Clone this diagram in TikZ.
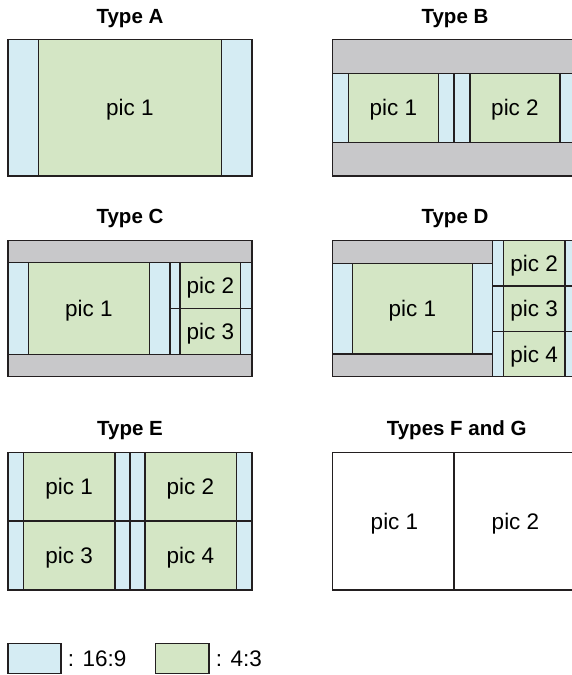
\documentclass[tikz,border=0pt]{standalone}
\usepackage{fontspec}
\setmainfont{Liberation Sans}
\usetikzlibrary{positioning}
\definecolor{wideblue}{RGB}{213,236,243}
\definecolor{stdgreen}{RGB}{212,230,197}
\definecolor{bargray}{RGB}{200,200,202}
\definecolor{edgeline}{RGB}{35,31,32}
\tikzset{
  wide/.style={draw=edgeline,line width=1.5pt,fill=wideblue},
  std/.style={draw=edgeline,line width=1.5pt,fill=stdgreen,inner sep=0pt,text depth=0pt,font=\fontsize{22.5}{26}\selectfont},
  bar/.style={draw=edgeline,line width=1.5pt,fill=bargray},
  blank/.style={draw=edgeline,line width=1.5pt,fill=white},
  title/.style={font=\bfseries\fontsize{20.5}{24}\selectfont,anchor=base,inner sep=0pt},
  tag/.style={font=\fontsize{22.5}{26}\selectfont,text depth=0pt,inner sep=0pt}
}
\begin{document}
\begin{tikzpicture}[x=1pt,y=-1pt]
\useasboundingbox (0,0) rectangle (572,675);
\clip (0,0) rectangle (572,675);


\node[title] (tA) at (130,23.3) {Type A};
\draw[wide] (8,39.5) rectangle (252,176);
\node[std,minimum width=182.6pt,minimum height=136.5pt] (a1) at (130,107.75) {pic 1};


\node[title] (tB) at (455,23.3) {Type B};
\draw[bar] (332.3,39.5) rectangle (576,176);
\draw[wide] (332.3,73.3) rectangle (454,142.3);
\draw[wide] (454,73.3) rectangle (576,142.3);
\node[std,minimum width=90pt,minimum height=69pt] (b1) at (393.3,107.8) {pic 1};
\node[std,minimum width=90pt,minimum height=69pt] (b2) at (515,107.8) {pic 2};


\node[title] (tC) at (130,223.3) {Type C};
\draw[bar] (8,240.7) rectangle (252,376.7);
\draw[wide] (8,262.7) rectangle (170,354.3);
\draw[wide] (170,262.7) rectangle (252,308.5);
\draw[wide] (170,308.5) rectangle (252,354.3);
\node[std,minimum width=121.4pt,minimum height=91.6pt] (c1) at (89,308.5) {pic 1};
\node[std,minimum width=60.7pt,minimum height=45.8pt] (c2) at (210.35,285.6) {pic 2};
\node[std,minimum width=60.7pt,minimum height=45.8pt] (c3) at (210.35,331.4) {pic 3};


\node[title] (tD) at (455,223.3) {Type D};
\draw[bar] (332.3,240.7) rectangle (492.3,376.7);
\draw[wide] (332.3,263.3) rectangle (492.3,354);
\draw[wide] (492.3,240.7) rectangle (576,286);
\draw[wide] (492.3,286) rectangle (576,331.3);
\draw[wide] (492.3,331.3) rectangle (576,376.7);
\node[std,minimum width=120pt,minimum height=90.7pt] (d1) at (412.3,308.65) {pic 1};
\node[std,minimum width=61.7pt,minimum height=45.3pt] (d2) at (534.15,263.35) {pic 2};
\node[std,minimum width=61.7pt,minimum height=45.3pt] (d3) at (534.15,308.65) {pic 3};
\node[std,minimum width=61.7pt,minimum height=45.3pt] (d4) at (534.15,354) {pic 4};


\node[title] (tE) at (130,435) {Type E};
\draw[wide] (8,452.3) rectangle (130,521.15);
\draw[wide] (130,452.3) rectangle (252,521.15);
\draw[wide] (8,521.15) rectangle (130,590);
\draw[wide] (130,521.15) rectangle (252,590);
\node[std,minimum width=91.5pt,minimum height=68.85pt] (e1) at (69.25,486.7) {pic 1};
\node[std,minimum width=91.5pt,minimum height=68.85pt] (e2) at (190.5,486.7) {pic 2};
\node[std,minimum width=91.5pt,minimum height=68.85pt] (e3) at (69.25,555.6) {pic 3};
\node[std,minimum width=91.5pt,minimum height=68.85pt] (e4) at (190.5,555.6) {pic 4};


\node[title] (tF) at (456.7,435) {Types F and G};
\draw[blank] (332.3,452.3) rectangle (454,590);
\draw[blank] (454,452.3) rectangle (576,590);
\node[tag] (f1) at (394.5,521.2) {pic 1};
\node[tag] (f2) at (515.5,521.2) {pic 2};


\node[wide,minimum width=53pt,minimum height=30.4pt] (k1) at (34.5,658.5) {};
\node[tag,right=6pt of k1] (k1t) {: 16:9};
\node[std,minimum width=53.7pt,minimum height=30.4pt] (k2) at (182.15,658.5) {};
\node[tag,right=6pt of k2] (k2t) {: 4:3};
\end{tikzpicture}
\end{document}
